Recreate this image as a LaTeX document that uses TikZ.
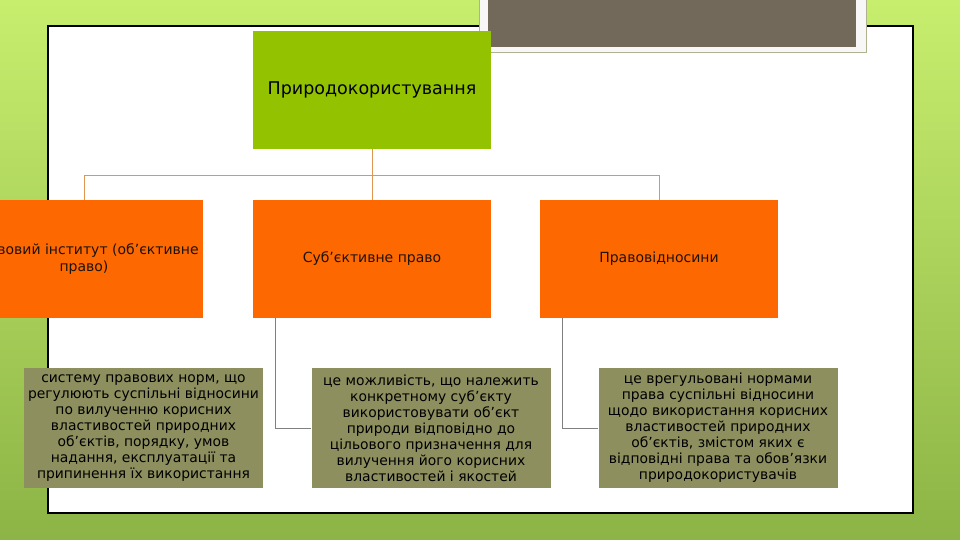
\documentclass[tikz,border=0pt]{standalone}
\usepackage{fontspec}
\setmainfont{DejaVu Sans}
\definecolor{slidegreen}{RGB}{147,194,0}
\definecolor{slideorange}{RGB}{254,104,0}
\definecolor{slideolive}{RGB}{141,143,95}
\definecolor{slidetaupe}{RGB}{114,105,91}
\definecolor{linkorange}{RGB}{222,150,80}
\definecolor{bgtop}{RGB}{200,238,110}
\definecolor{bgbottom}{RGB}{140,180,70}

\begin{document}
\begin{tikzpicture}[x=1pt, y=-1pt,
  rootbox/.style={fill=slidegreen, minimum width=238pt, minimum height=118pt, inner sep=0pt, font=\fontsize{17.5}{20}\selectfont},
  termbox/.style={fill=slideorange, minimum width=238pt, minimum height=118pt, inner sep=0pt, align=center, text=black!85!brown, font=\fontsize{14}{17}\selectfont},
  textbox/.style={fill=slideolive, minimum width=239pt, minimum height=120pt, inner sep=0pt, align=center, font=\fontsize{13.9}{16}\selectfont},
  toplink/.style={draw=linkorange, line width=0.8pt},
  sublink/.style={draw=black!50, line width=0.7pt}]
\useasboundingbox (0,0) rectangle (960,540);
\clip (0,0) rectangle (960,540);
\shade[top color=bgtop, bottom color=bgbottom] (0,0) rectangle (960,540);
\draw[fill=white, line width=1.2pt] (48,26) rectangle (913,513);
\draw[fill=black!3, draw=slideolive!70] (479,-5) rectangle (866,52);
\fill[slidetaupe] (488,-5) rectangle (856,47);
\node[rootbox] (root) at (372,90) {Природокористування};
\node[termbox] (inst) at (84,259) {Правовий інститут (об'єктивне\\право)};
\node[termbox] (sub) at (372,259) {Суб'єктивне право};
\node[termbox] (rel) at (659,259) {Правовідносини};
\node[textbox] (insttxt) at (143.5,428) {систему правових норм, що\\регулюють суспільні відносини\\по вилученню корисних\\властивостей природних\\об'єктів, порядку, умов\\надання, експлуатації та\\припинення їх використання};
\node[textbox] (subtxt) at (431,428) {це можливість, що належить\\конкретному суб'єкту\\використовувати об'єкт\\природи відповідно до\\цільового призначення для\\вилучення його корисних\\властивостей і якостей};
\node[textbox] (reltxt) at (718,428) {це врегульовані нормами\\права суспільні відносини\\щодо використання корисних\\властивостей природних\\об'єктів, змістом яких є\\відповідні права та обов'язки\\природокористувачів};
\draw[toplink] (root.south) -- (sub.north);
\draw[toplink] (root.south) ++(0,26) -| (inst.north);
\draw[toplink] (root.south) ++(0,26) -| (rel.north);
\draw[sublink] (sub.south west) ++(23,0) |- (subtxt.west);
\draw[sublink] (rel.south west) ++(23,0) |- (reltxt.west);
\end{tikzpicture}
\end{document}
